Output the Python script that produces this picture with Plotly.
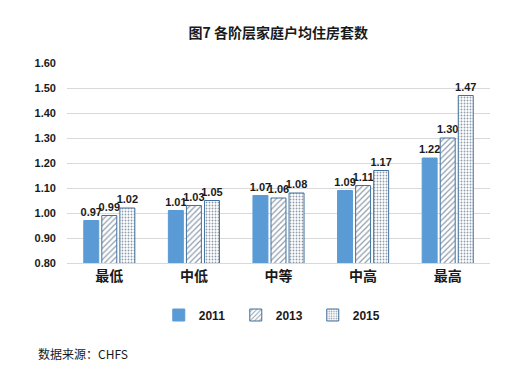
import plotly.graph_objects as go

categories = ["最低", "中低", "中等", "中高", "最高"]
years = ["2011", "2013", "2015"]
v2011 = [0.97, 1.01, 1.07, 1.09, 1.22]
v2013 = [0.99, 1.03, 1.06, 1.11, 1.30]
v2015 = [1.02, 1.05, 1.08, 1.17, 1.47]
y_ticks = [0.80, 0.90, 1.00, 1.10, 1.20, 1.30, 1.40, 1.50, 1.60]

num_font = "Liberation Sans"
cjk_font = "Noto Sans CJK SC"

fig = go.Figure()
styles = [
    dict(color="#5B9BD5", line=dict(color="#5B9BD5", width=1)),
    dict(color="white", line=dict(color="#41719C", width=1),
         pattern=dict(shape="/", fgcolor="#1F3A5A", bgcolor="white", size=4, solidity=0.3)),
    dict(color="white", line=dict(color="#41719C", width=1),
         pattern=dict(shape=".", fgcolor="#1F3A5A", bgcolor="white", size=3, solidity=0.3)),
]
for name, vals, st in zip(years, [v2011, v2013, v2015], styles):
    fig.add_trace(go.Bar(
        x=categories, y=vals, name=f"<b>{name}</b>", marker=st,
        text=[f"<b>{v:.2f}</b>" for v in vals], textposition="outside",
        constraintext="none",
        textfont=dict(family=num_font, size=11, color="#1a1a1a"),
        cliponaxis=False,
    ))

fig.update_layout(
    width=505, height=375,
    margin=dict(l=59, r=23, t=55, b=120),
    paper_bgcolor="white", plot_bgcolor="white",
    barmode="group", bargap=0.36, bargroupgap=0.17,
    title=dict(text="<b>图7 各阶层家庭户均住房套数</b>", x=0.535, xanchor="center",
               y=0.933, yanchor="middle",
               font=dict(family=cjk_font, size=14, color="#1a1a1a")),
    legend=dict(orientation="h", x=0.49, xanchor="center", y=-0.26, yanchor="middle",
                font=dict(family=num_font, size=12, color="#1a1a1a"),
                itemwidth=30, entrywidth=32, traceorder="normal"),
    yaxis=dict(range=[0.8, 1.6], tickvals=y_ticks,
               ticktext=[f"<b>{t:.2f}</b>" for t in y_ticks],
               tickfont=dict(family=num_font, size=11, color="#1a1a1a"),
               gridcolor="#D9D9D9", gridwidth=1, zeroline=False, showline=False,
               ticks="", ticklabelstandoff=10, automargin=False),
    xaxis=dict(tickvals=categories, ticktext=[f"<b>{c}</b>" for c in categories],
               tickfont=dict(family=cjk_font, size=14, color="#1a1a1a"),
               showline=True, linecolor="#D9D9D9", ticks="", automargin=False),
    font=dict(family=num_font),
)

fig.add_annotation(text="数据来源：CHFS", xref="paper", yref="paper",
                   x=-0.073, y=-0.45, xanchor="left", yanchor="middle", showarrow=False,
                   font=dict(family=cjk_font, size=12, color="#1a1a1a"))

fig.write_html("out.html")
